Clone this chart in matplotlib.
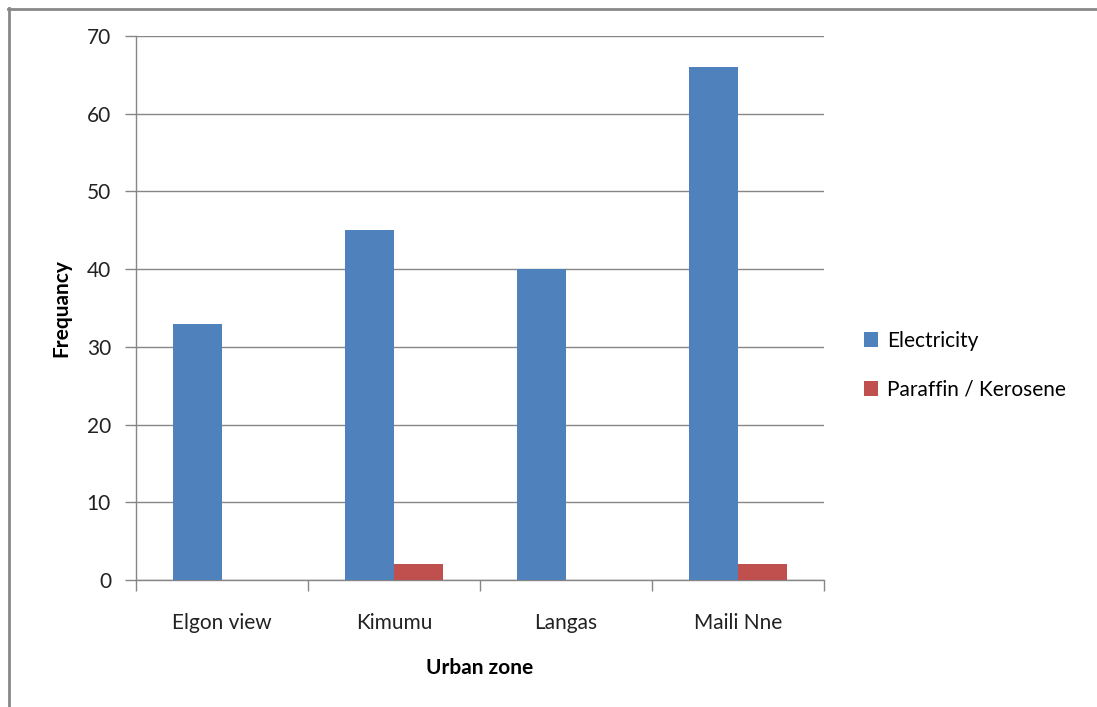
import matplotlib
matplotlib.use("Agg")
import matplotlib.pyplot as plt
from matplotlib.lines import Line2D
import numpy as np

categories = ["Elgon view", "Kimumu", "Langas", "Maili Nne"]
electricity = [33, 45, 40, 66]
paraffin = [0, 2, 0, 2]
series_names = ["Electricity", "Paraffin / Kerosene"]
yticks = [0, 10, 20, 30, 40, 50, 60, 70]

plt.rcParams['font.family'] = ['Lato', 'DejaVu Sans']

W, H = 1097, 707
fig = plt.figure(figsize=(W / 100, H / 100), dpi=100)
ax = fig.add_axes([136 / W, 1 - 580 / H, (824 - 136) / W, (580 - 36) / H])

x = np.arange(len(categories))
w = 1 / 3.5
blue = "#4F81BD"
red = "#C0504D"
grid = "#868686"
fs = 15

ax.bar(x - w / 2, electricity, width=w, color=blue, label=series_names[0], zorder=3)
ax.bar(x + w / 2, paraffin, width=w, color=red, label=series_names[1], zorder=3)

ax.set_xlim(-0.5, len(categories) - 0.5)
ax.set_ylim(0, 70)
ax.set_yticks(yticks)
ax.set_yticklabels([str(v) for v in yticks], fontsize=fs, color="#222222")
ax.yaxis.grid(True, color=grid, linewidth=1, zorder=0)

ax.set_xticks(x)
ax.set_xticklabels(categories, fontsize=fs, color="#222222")
ax.tick_params(axis='x', length=0, pad=24)
ax.set_xticks(np.arange(len(categories) + 1) - 0.5, minor=True)
ax.tick_params(axis='x', which='minor', length=8, color=grid, width=1, direction='out')
ax.tick_params(axis='y', length=8, color=grid, width=1, direction='out', pad=10)

for s in ['top', 'right']:
    ax.spines[s].set_visible(False)
for s in ['left', 'bottom']:
    ax.spines[s].set_color(grid)
    ax.spines[s].set_linewidth(1)

ax.set_ylabel("Frequancy", fontsize=fs, fontweight='bold', labelpad=11)
ax.set_xlabel("Urban zone", fontsize=fs, fontweight='bold', labelpad=18)

leg = fig.legend(loc='upper left', bbox_to_anchor=(845 / W, 1 - 312 / H),
                 frameon=False, fontsize=fs, handlelength=0.7, handleheight=0.7,
                 handletextpad=0.4, labelspacing=1.4)

# outer border (left and top visible)
fig.add_artist(Line2D([8.5 / W, 8.5 / W], [0, 1 - 8 / H], transform=fig.transFigure,
                      color="#888888", linewidth=2))
fig.add_artist(Line2D([8 / W, 1], [1 - 8.5 / H, 1 - 8.5 / H], transform=fig.transFigure,
                      color="#888888", linewidth=2))

fig.savefig("out.png", dpi=100)
